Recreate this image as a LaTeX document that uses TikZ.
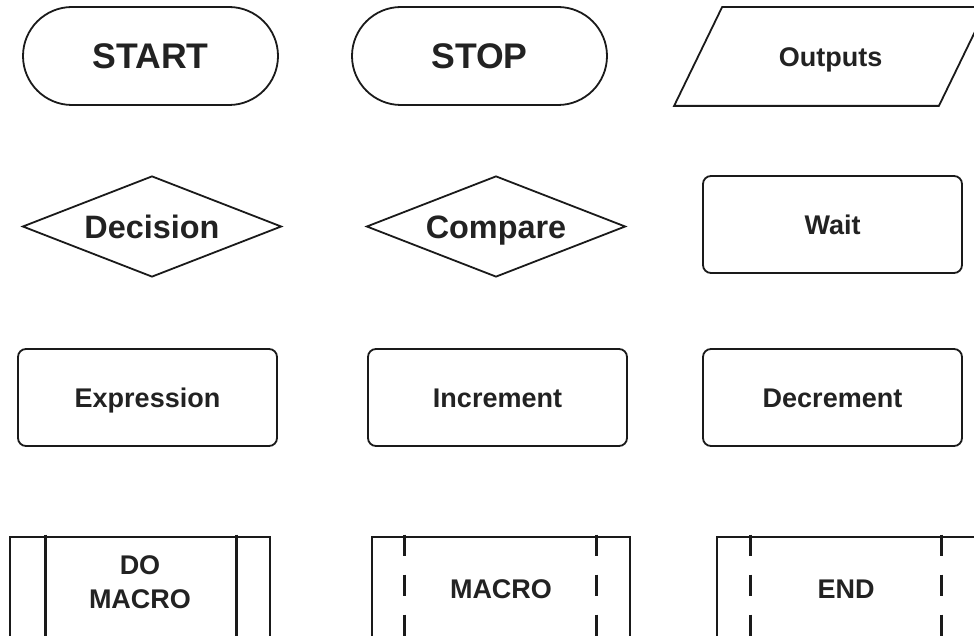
\documentclass[tikz,border=0pt]{standalone}
\usepackage{fontspec}
\setmainfont{Liberation Sans}
\usepackage{tikz}
\usetikzlibrary{
  shapes,
  shapes.geometric,
  shapes.misc,
  calc
}
\definecolor{fcLine}{HTML}{1A1A1A}
\definecolor{fcText}{HTML}{222222}
\tikzset{
  fcnode/.style={
    draw=fcLine, line width=0.9pt, text=fcText, align=center, inner sep=0pt,
    text height=9.7pt, text depth=0pt,
    font=\fontsize{13.5}{17}\selectfont\bfseries
  },
  fcterm/.style={fcnode, rounded rectangle, minimum width=127.5pt, minimum height=49pt,
    text height=12.8pt, font=\fontsize{17.8}{21}\selectfont\bfseries},
  fcdecide/.style={fcnode, diamond, aspect=2.56, minimum width=129.5pt, minimum height=50.5pt,
    text height=11.6pt, font=\fontsize{16.2}{19}\selectfont\bfseries},
  fciotext/.style={fcnode, draw=none, minimum width=131.5pt, minimum height=48.5pt},
  fcio/.style={draw=fcLine, line width=0.9pt, line join=miter},
  fcproc/.style={fcnode, rounded corners=4pt, minimum width=129.5pt, minimum height=48.5pt},
  fcmacro/.style={fcnode, line width=1.3pt, minimum width=129pt, minimum height=51.5pt},
  fcbar/.style={line width=1.3pt, draw=fcLine},
  fcdash/.style={fcbar, dash pattern=on 10.5pt off 9.5pt}
}

\begin{document}
\begin{tikzpicture}[x=0.5pt, y=-0.5pt]
  \useasboundingbox (0,0) rectangle (974,636);
  \clip (0,0) rectangle (974,636);

  % terminals and output
  \node[fcterm] (start) at (150.5,56) {START};
  \node[fcterm] (stop) at (479.5,56) {STOP};
  \node[fciotext] (outputs) at (830.5,56.5) {Outputs};
  \draw[fcio] ($(outputs.south west)+(-24,0)$) -- ($(outputs.north west)+(24,0)$)
    -- ($(outputs.north east)+(24,0)$) -- ($(outputs.south east)+(-24,0)$) -- cycle;

  % decisions
  \node[fcdecide] (decision) at (152,226.5) {Decision};
  \node[fcdecide] (compare) at (496,226.5) {Compare};
  \node[fcproc] (wait) at (832.5,224.5) {Wait};

  % processes
  \node[fcproc] (expr) at (147.5,397.5) {Expression};
  \node[fcproc] (incr) at (497.5,397.5) {Increment};
  \node[fcproc] (decr) at (832.5,397.5) {Decrement};

  % macros
  \node[fcmacro, minimum width=130pt, text height=, text depth=6pt] (domacro) at (140,588.5) {DO\\MACRO};
  \node[fcmacro] (macro) at (501,588.5) {MACRO};
  \node[fcmacro] (mend) at (846,588.5) {END};

  \draw[fcbar] ($(domacro.north west)+(37,-1)$) -- ($(domacro.south west)+(37,0)$);
  \draw[fcbar] ($(domacro.north east)+(-35,-1)$) -- ($(domacro.south east)+(-35,0)$);
  \draw[fcdash] ($(macro.north west)+(34,-1)$) -- ($(macro.south west)+(34,0)$);
  \draw[fcdash] ($(macro.north east)+(-35,-1)$) -- ($(macro.south east)+(-35,0)$);
  \draw[fcdash] ($(mend.north west)+(35,-1)$) -- ($(mend.south west)+(35,0)$);
  \draw[fcdash] ($(mend.north east)+(-35,-1)$) -- ($(mend.south east)+(-35,0)$);
\end{tikzpicture}
\end{document}
